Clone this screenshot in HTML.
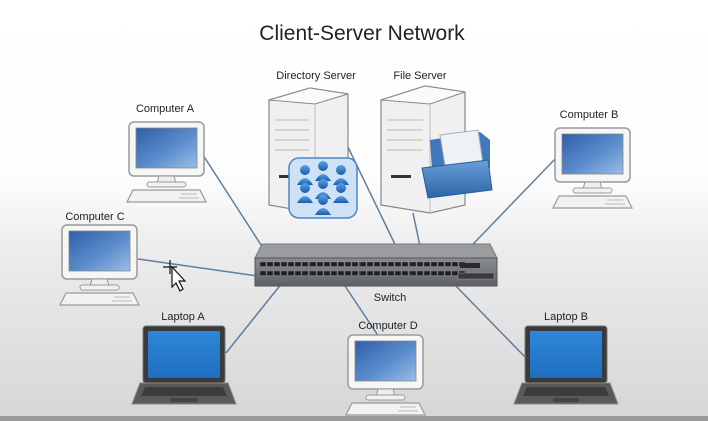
<!DOCTYPE html>
<html><head><meta charset="utf-8"><style>
html,body{margin:0;padding:0;width:708px;height:421px;overflow:hidden;background:#fff}
svg{display:block}
text{font-family:"Liberation Sans",sans-serif;fill:#222}
</style></head><body>
<svg width="708" height="421" viewBox="0 0 708 421" xmlns="http://www.w3.org/2000/svg">
<defs>
<linearGradient id="bg" x1="0" y1="0" x2="0" y2="1">
<stop offset="0" stop-color="#ffffff"/><stop offset="0.42" stop-color="#fdfdfd"/><stop offset="0.6" stop-color="#ececec"/><stop offset="1" stop-color="#d6d6d6"/></linearGradient>
<linearGradient id="scr" x1="0" y1="0" x2="1" y2="1">
<stop offset="0" stop-color="#2f5fa8"/><stop offset="0.55" stop-color="#5a8ccc"/><stop offset="1" stop-color="#9bbde6"/></linearGradient>
<linearGradient id="lap" x1="0" y1="0" x2="0" y2="1">
<stop offset="0" stop-color="#2e86d8"/><stop offset="1" stop-color="#1f6fc0"/></linearGradient>
<linearGradient id="sw" x1="0" y1="0" x2="0" y2="1">
<stop offset="0" stop-color="#8a8d92"/><stop offset="1" stop-color="#5e6166"/></linearGradient>
<linearGradient id="usr" x1="0" y1="0" x2="0" y2="1">
<stop offset="0" stop-color="#5aa2e8"/><stop offset="1" stop-color="#1b5aa8"/></linearGradient>
<linearGradient id="fold" x1="0" y1="0" x2="0" y2="1">
<stop offset="0" stop-color="#6aa0d8"/><stop offset="1" stop-color="#2c64a8"/></linearGradient>
<g id="pc">
<rect x="0" y="0" width="75" height="54" rx="5" fill="#f6f6f6" stroke="#9a9a9a" stroke-width="1.5"/>
<rect x="7" y="6" width="61" height="40" fill="url(#scr)" stroke="#888" stroke-width="0.8"/>
<path d="M30 54 L45 54 L47 61 L28 61 Z" fill="#eee" stroke="#999"/>
<rect x="18" y="60" width="39" height="5" rx="2.5" fill="#f2f2f2" stroke="#999"/>
<path d="M4 68 L71 68 L77 80 L-2 80 Z" fill="#f2f2f2" stroke="#9a9a9a" stroke-width="1.2"/>
<path d="M52 72 h16 M50 76 h20" stroke="#bbb"/>
</g>
<g id="lt">
<rect x="0" y="0" width="82" height="57" rx="3" fill="#3a3a3a" stroke="#777"/>
<rect x="5" y="5" width="72" height="47" fill="url(#lap)"/>
<path d="M-3 57 L85 57 L93 78 L-11 78 Z" fill="#5a5a5a" stroke="#888"/>
<path d="M2 61 L80 61 L84 70 L-2 70 Z" fill="#3c3c3c"/>
<rect x="28" y="72" width="26" height="4" fill="#444"/>
</g>
<g id="port"><rect width="6" height="4.5" fill="#1e1f22" stroke="#8a8a8a" stroke-width="0.4"/></g>
</defs>
<rect width="708" height="421" fill="url(#bg)"/>
<rect y="416" width="708" height="5" fill="#9a9a9a"/>
<text x="362" y="40" font-size="21" text-anchor="middle" fill="#222">Client-Server Network</text>

<!-- lines -->
<g stroke="#5d7f9e" stroke-width="1.5">
<line x1="203" y1="155" x2="272" y2="262"/>
<line x1="138" y1="259" x2="258" y2="276"/>
<line x1="226" y1="353" x2="282" y2="283"/>
<line x1="343" y1="283" x2="379" y2="337"/>
<line x1="453" y1="283" x2="526" y2="358"/>
<line x1="556" y1="158" x2="450" y2="268"/>
<line x1="347" y1="145" x2="405" y2="265"/>
<line x1="413" y1="213" x2="424" y2="265"/>
</g>

<!-- servers -->
<g>
<path d="M269 100 L310 88 L348 94 L348 205 L315 213 L269 205 Z" fill="#f0f0f0" stroke="#888" stroke-width="1.2"/>
<path d="M269 100 L310 88 L348 94 L315 104 Z" fill="#fafafa" stroke="#888" stroke-width="1"/>
<path d="M315 104 L315 213" stroke="#bbb"/>
<path d="M275 120 h34 M275 130 h34 M275 140 h34 M275 150 h34" stroke="#ccc" stroke-width="1.5"/>
<rect x="279" y="175" width="20" height="3" fill="#333"/>
<path d="M381 100 L425 86 L465 92 L465 205 L430 213 L381 205 Z" fill="#f0f0f0" stroke="#888" stroke-width="1.2"/>
<path d="M381 100 L425 86 L465 92 L430 104 Z" fill="#fafafa" stroke="#888"/>
<path d="M430 104 L430 213" stroke="#bbb"/>
<path d="M387 120 h36 M387 130 h36 M387 140 h36 M387 150 h36" stroke="#ccc" stroke-width="1.5"/>
<rect x="391" y="175" width="20" height="3" fill="#333"/>
<!-- users icon -->
<rect x="289" y="158" width="68" height="60" rx="10" fill="#cfe2f5" stroke="#4a86c8" stroke-width="1.5"/>
<g fill="url(#usr)">
<circle cx="305" cy="170" r="5"/><path d="M297 185 q8 -14 16 0 z"/>
<circle cx="323" cy="166" r="5"/><path d="M315 181 q8 -14 16 0 z"/>
<circle cx="341" cy="170" r="5"/><path d="M333 185 q8 -14 16 0 z"/>
<circle cx="305" cy="188" r="5"/><path d="M297 203 q8 -14 16 0 z"/>
<circle cx="323" cy="184" r="5"/><path d="M315 199 q8 -14 16 0 z"/>
<circle cx="341" cy="188" r="5"/><path d="M333 203 q8 -14 16 0 z"/>
<circle cx="323" cy="200" r="5"/><path d="M315 215 q8 -14 16 0 z"/>
</g>
<!-- folder -->
<path d="M430 140 L480 132 L490 140 L490 168 L432 170 Z" fill="#3f78bc"/>
<path d="M440 135 L478 130 L484 170 L446 172 Z" fill="#eef2f6" stroke="#aab"/>
<path d="M422 168 L488 160 L492 190 L428 198 Z" fill="url(#fold)" stroke="#2c5c96"/>
</g>
<text x="316" y="79" font-size="11" text-anchor="middle">Directory Server</text>
<text x="420" y="79" font-size="11" text-anchor="middle">File Server</text>

<!-- switch -->
<path d="M262 244 L490 244 L497 258 L255 258 Z" fill="#9a9ca0" stroke="#777"/>
<rect x="255" y="258" width="242" height="28" fill="url(#sw)" stroke="#555"/>
<g id="row">
<use href="#port" x="260" y="262"/><use href="#port" x="267" y="262"/><use href="#port" x="274" y="262"/><use href="#port" x="281" y="262"/><use href="#port" x="288" y="262"/><use href="#port" x="295" y="262"/><use href="#port" x="302" y="262"/><use href="#port" x="309" y="262"/>
</g>
<use href="#row" x="0" y="9"/>
<use href="#row" x="50" y="0"/><use href="#row" x="50" y="9"/>
<use href="#row" x="100" y="0"/><use href="#row" x="100" y="9"/>
<use href="#row" x="150" y="0"/><use href="#row" x="150" y="9"/>
<rect x="460" y="263" width="20" height="5" fill="#2a2a2a"/>
<rect x="458" y="273" width="36" height="6" fill="#3a3a3a" stroke="#999" stroke-width="0.5"/>
<text x="390" y="301" font-size="11" text-anchor="middle">Switch</text>

<!-- computers -->
<use href="#pc" x="129" y="122"/>
<text x="165" y="112" font-size="11" text-anchor="middle">Computer A</text>
<use href="#pc" x="555" y="128"/>
<text x="589" y="118" font-size="11" text-anchor="middle">Computer B</text>
<use href="#pc" x="62" y="225"/>
<text x="95" y="220" font-size="11" text-anchor="middle">Computer C</text>
<use href="#pc" x="348" y="335"/>
<text x="388" y="329" font-size="11" text-anchor="middle">Computer D</text>
<use href="#lt" x="143" y="326"/>
<text x="183" y="320" font-size="11" text-anchor="middle">Laptop A</text>
<use href="#lt" x="525" y="326"/>
<text x="566" y="320" font-size="11" text-anchor="middle">Laptop B</text>

<!-- cursor -->
<g stroke="#111" stroke-width="1.2" fill="none">
<path d="M163 267 h14 M170 260 v14"/>
</g>
<path d="M172 267 L172 287 L176 283 L180 291 L183 289 L179 281 L185 281 Z" fill="#fff" stroke="#111" stroke-width="1.2"/>
</svg>
</body></html>
